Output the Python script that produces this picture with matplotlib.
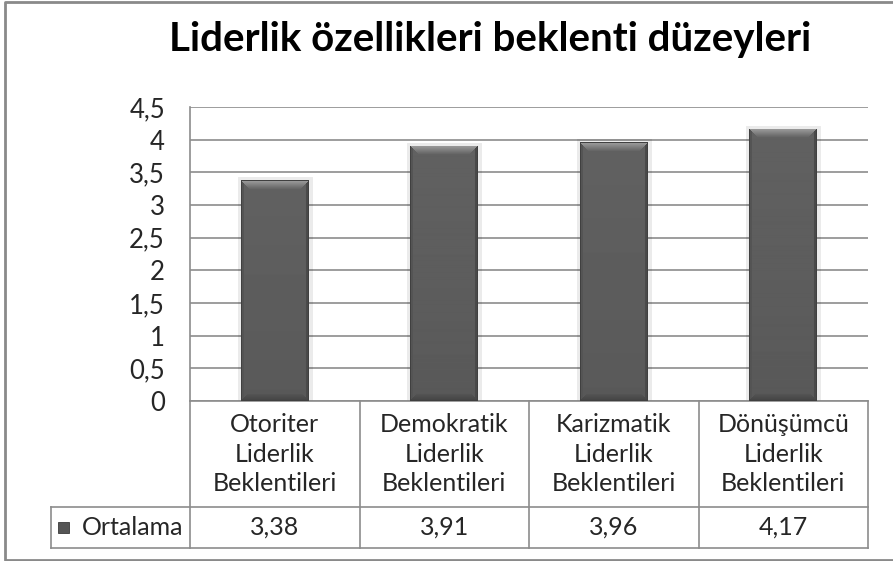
import numpy as np
import matplotlib
matplotlib.use("Agg")
import matplotlib.pyplot as plt
from matplotlib.lines import Line2D
from matplotlib.patches import Rectangle

plt.rcParams['font.family'] = ['Lato', 'DejaVu Sans']

title = "Liderlik özellikleri beklenti düzeyleri"
categories = ["Otoriter\nLiderlik\nBeklentileri",
              "Demokratik\nLiderlik\nBeklentileri",
              "Karizmatik\nLiderlik\nBeklentileri",
              "Dönüşümcü\nLiderlik\nBeklentileri"]
series_name = "Ortalama"
values = [3.38, 3.91, 3.96, 4.17]
yticks = [0, 0.5, 1, 1.5, 2, 2.5, 3, 3.5, 4, 4.5]

W, H = 893, 561
text_col = "#262626"
line_col = "#8c8c8c"

fig = plt.figure(figsize=(W / 100, H / 100), dpi=100)
# plot area in pixel coords: x 190..868, y 107..401
ax = fig.add_axes([190 / W, 1 - 401 / H, 678 / W, 294 / H])

x = np.arange(len(values))
bar_w = 0.4
ymax = 4.5

# soft shadow + bars
ax.bar(x, values, width=bar_w, color="none", edgecolor=(0, 0, 0, 0.08), linewidth=5, zorder=2)
bars = ax.bar(x, values, width=bar_w, color="#5e5e5e", edgecolor="none", zorder=3)


def bevel(w, h):
    yy, xx = np.mgrid[0:h, 0:w].astype(float)
    dt, db = yy, h - 1 - yy
    dl, dr = xx, w - 1 - xx
    img = 0.38 - 0.03 * yy / h
    m = np.minimum(np.minimum(dt, db), np.minimum(dl, dr))
    top = (dt == m) & (dt < 9)
    bot = (db == m) & (db < 7) & ~top
    left = (dl == m) & (dl < 3) & ~top & ~bot
    right = (dr == m) & (dr < 3) & ~top & ~bot
    img = np.where(top, 0.62 - 0.24 * dt / 9, img)
    img = np.where(bot, 0.27 + 0.07 * db / 7, img)
    img = np.where(left, 0.33, img)
    img = np.where(right, 0.29, img)
    img = np.where(m < 1, 0.25, img)
    return img


px_x = 678 / 4
px_y = 294 / ymax
for b, v in zip(bars, values):
    w_px = int(round(bar_w * px_x))
    h_px = int(round(v * px_y))
    im = ax.imshow(bevel(w_px, h_px), cmap="gray", vmin=0, vmax=1, aspect="auto",
                   extent=(b.get_x(), b.get_x() + b.get_width(), 0, v),
                   origin="upper", interpolation="bilinear", zorder=3)
    im.set_clip_path(b)

ax.set_xlim(-0.5, len(values) - 0.5)
ax.set_ylim(0, ymax)
ax.set_yticks(yticks)
ax.set_yticklabels([f"{t:g}".replace(".", ",") for t in yticks],
                   fontsize=18.5, color=text_col)
ax.tick_params(axis="y", length=0, pad=18)
ax.set_xticks([])
ax.yaxis.grid(True, color=line_col, linewidth=1.2)
ax.set_axisbelow(True)
for s in ["top", "right"]:
    ax.spines[s].set_visible(False)
for s in ["left", "bottom"]:
    ax.spines[s].set_color(line_col)
    ax.spines[s].set_linewidth(1.2)

# data table below the plot
cat_h = 106 / 294
val_h = 41 / 294
leg_x = (51 - 190) / 678
y1 = -cat_h
y2 = -cat_h - val_h
tr = ax.transAxes
segs = [((leg_x, 1), (y1, y1)), ((leg_x, 1), (y2, y2)),
        ((leg_x, leg_x), (y1, y2)), ((0, 0), (0, y2))]
for i in range(1, len(values) + 1):
    segs.append(((i / len(values), i / len(values)), (0, y2)))
for xs, ys in segs:
    ax.add_line(Line2D(xs, ys, transform=tr, color=line_col, lw=1.2, clip_on=False))

for i, (c, v) in enumerate(zip(categories, values)):
    cx = (i + 0.5) / len(values)
    ax.text(cx, -cat_h / 2, c, transform=tr, ha="center", va="center",
            fontsize=18, color=text_col, linespacing=1.35)
    ax.text(cx, (y1 + y2) / 2, f"{v:.2f}".replace(".", ","), transform=tr,
            ha="center", va="center", fontsize=18, color=text_col)

# legend key and series name
key_w = 11 / 678
key_h = 11 / 294
ax.add_patch(Rectangle(((58 - 190) / 678, (y1 + y2) / 2 - key_h / 2), key_w, key_h,
                       transform=tr, facecolor="#555555", edgecolor="#3a3a3a",
                       lw=0.6, clip_on=False))
ax.text((82 - 190) / 678, (y1 + y2) / 2, series_name, transform=tr, ha="left",
        va="center", fontsize=18, color=text_col)

fig.text(490 / W, 1 - 40 / H, title, ha="center", va="center",
         fontsize=29, fontweight="bold", color="#000000")

# chart area frame (left, top, bottom)
fig.add_artist(Line2D([1, 5 / W, 5 / W, 1], [1 - 1.5 / H, 1 - 1.5 / H, 1 / H, 1 / H],
                      transform=fig.transFigure, color="#8a8a8a", lw=2))

fig.savefig("out.png", dpi=100)
